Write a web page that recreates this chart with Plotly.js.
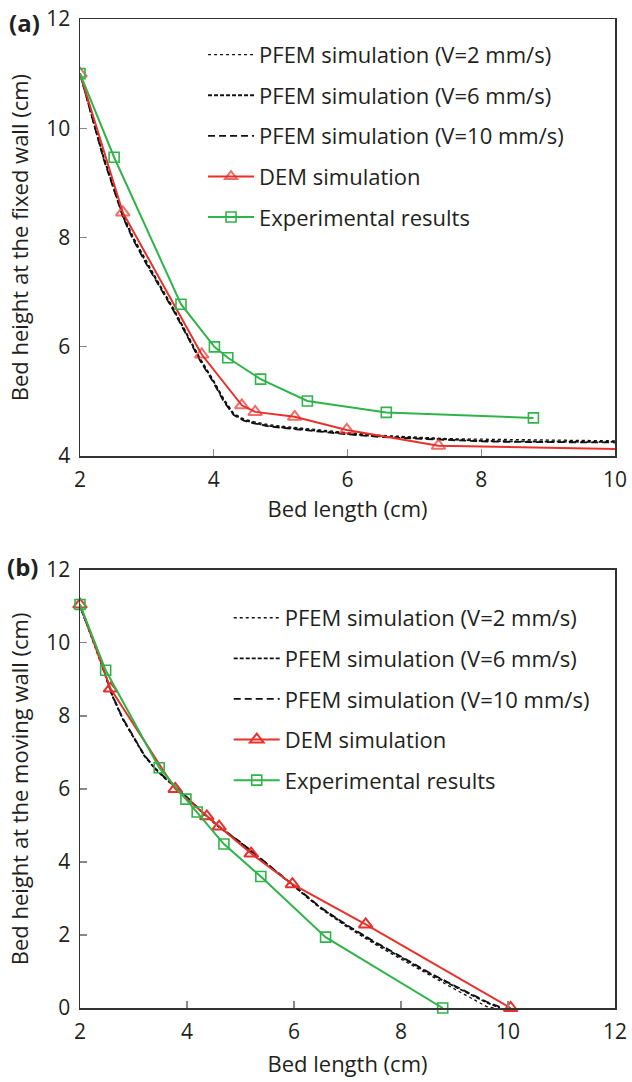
<!DOCTYPE html>
<html>
<head>
<meta charset="utf-8">
<script src="https://cdn.plot.ly/plotly-3.0.1.min.js"></script>
<style>html,body{margin:0;padding:0;background:#fff;}#chart{width:632px;height:1082px;}</style>
</head>
<body>
<div id="chart"></div>
<script>
// ---------- Panel (a): fixed wall ----------
const aPfemX = [2.0, 2.1, 2.2, 2.35, 2.5, 2.65, 2.8, 3.0, 3.2, 3.4, 3.6, 3.8, 4.0, 4.15, 4.3, 4.45, 4.6, 4.8, 5.0, 5.3, 5.6, 6.0, 6.5, 7.0, 7.5, 8.0, 8.5, 9.0, 9.5, 10.0];
const aPfemV2Y  = [11.0, 10.6, 10.15, 9.5, 8.95, 8.4, 8.0, 7.55, 7.12, 6.7, 6.25, 5.78, 5.38, 5.05, 4.78, 4.68, 4.63, 4.58, 4.55, 4.51, 4.47, 4.43, 4.38, 4.35, 4.32, 4.31, 4.30, 4.29, 4.29, 4.28];
const aPfemV6Y  = [11.0, 10.58, 10.12, 9.47, 8.92, 8.37, 7.97, 7.52, 7.1, 6.68, 6.22, 5.76, 5.36, 5.02, 4.76, 4.66, 4.61, 4.56, 4.53, 4.49, 4.45, 4.41, 4.36, 4.33, 4.30, 4.28, 4.27, 4.27, 4.26, 4.26];
const aPfemV10Y = [11.0, 10.57, 10.1, 9.45, 8.9, 8.35, 7.95, 7.5, 7.08, 6.66, 6.2, 5.74, 5.34, 5.0, 4.75, 4.65, 4.60, 4.55, 4.52, 4.48, 4.44, 4.40, 4.35, 4.32, 4.29, 4.27, 4.26, 4.26, 4.25, 4.25];
const aDemX = [2.0, 2.64, 3.82, 4.42, 4.62, 5.21, 5.99, 7.36, 10.0];
const aDemY = [11.0, 8.46, 5.86, 4.93, 4.81, 4.72, 4.48, 4.19, 4.13];
const aExpX = [2.0, 2.51, 3.51, 4.01, 4.21, 4.70, 5.40, 6.58, 8.78];
const aExpY = [11.0, 9.47, 6.78, 6.0, 5.8, 5.41, 5.01, 4.80, 4.70];

// ---------- Panel (b): moving wall ----------
const bPfemX = [2.0, 2.1, 2.2, 2.3, 2.45, 2.6, 2.8, 3.0, 3.2, 3.4, 3.6, 3.8, 4.0, 4.3, 4.6, 5.0, 5.5, 6.0, 6.5, 7.0, 7.5, 8.0, 8.5, 9.0, 9.3, 9.6];
const bPfemV2Y  = [11.0, 10.6, 10.25, 9.85, 9.2, 8.55, 7.9, 7.4, 6.9, 6.55, 6.27, 6.03, 5.75, 5.33, 4.95, 4.52, 3.93, 3.33, 2.72, 2.21, 1.76, 1.34, 0.92, 0.52, 0.28, 0.04];
const bPfemV6Y  = [11.0, 10.62, 10.27, 9.87, 9.22, 8.57, 7.92, 7.42, 6.92, 6.56, 6.28, 6.04, 5.76, 5.34, 4.96, 4.53, 3.94, 3.34, 2.74, 2.24, 1.80, 1.39, 0.97, 0.59, 0.37, 0.15];
const bPfemV10Y = [11.0, 10.63, 10.28, 9.88, 9.23, 8.58, 7.93, 7.43, 6.93, 6.57, 6.29, 6.05, 5.77, 5.35, 4.97, 4.54, 3.95, 3.35, 2.75, 2.26, 1.82, 1.41, 0.99, 0.61, 0.39, 0.17];
const bPfemEndX = [9.75, 9.85, 9.9];
const bDemX = [2.0, 2.57, 3.78, 4.37, 4.60, 5.20, 5.97, 7.34, 10.05];
const bDemY = [11.05, 8.75, 6.0, 5.25, 4.97, 4.23, 3.39, 2.29, 0.0];
const bExpX = [2.0, 2.48, 3.48, 3.98, 4.19, 4.69, 5.38, 6.59, 8.78];
const bExpY = [11.05, 9.25, 6.58, 5.72, 5.37, 4.49, 3.60, 1.94, 0.0];

const legendNames = ["PFEM simulation (V=2 mm/s)", "PFEM simulation (V=6 mm/s)", "PFEM simulation (V=10 mm/s)", "DEM simulation", "Experimental results"];
const xTitle = "Bed length (cm)";
const yTitleA = "Bed height at the fixed wall (cm)";
const yTitleB = "Bed height at the moving wall (cm)";

const RED = "#e8312b", GREEN = "#2fb44a", BLACK = "#111111";
const dashes = ["dot", "4px,2px", "7px,4px"];
const dashWidths = [1.3, 1.8, 1.8];

function withEnd(xs, ys, ex) { return [xs.concat([ex]), ys.concat([0])]; }

const traces = [];
// panel a
[aPfemV2Y, aPfemV6Y, aPfemV10Y].forEach((ys, i) => {
  traces.push({x: aPfemX, y: ys, xaxis: "x", yaxis: "y", mode: "lines", name: legendNames[i],
    legend: "legend", legendgroup: "a" + i,
    line: {color: BLACK, width: dashWidths[i], dash: dashes[i]}});
});
traces.push({x: aDemX, y: aDemY, xaxis: "x", yaxis: "y", mode: "lines+markers", name: legendNames[3],
  legend: "legend", legendgroup: "a3",
  line: {color: RED, width: 2},
  marker: {symbol: "triangle-up-open", size: aDemX.map((v, i) => i === aDemX.length - 1 ? 0 : 12), color: RED, line: {width: 2}}});
traces.push({x: aExpX, y: aExpY, xaxis: "x", yaxis: "y", mode: "lines+markers", name: legendNames[4],
  legend: "legend", legendgroup: "a4",
  line: {color: GREEN, width: 2},
  marker: {symbol: "square-open", size: 10, color: GREEN, line: {width: 1.6}}});
// panel b
[bPfemV2Y, bPfemV6Y, bPfemV10Y].forEach((ys, i) => {
  const d = withEnd(bPfemX, ys, bPfemEndX[i]);
  traces.push({x: d[0], y: d[1], xaxis: "x2", yaxis: "y2", mode: "lines", name: legendNames[i],
    legend: "legend2", legendgroup: "b" + i,
    line: {color: BLACK, width: dashWidths[i], dash: dashes[i]}});
});
traces.push({x: bDemX, y: bDemY, xaxis: "x2", yaxis: "y2", mode: "lines+markers", name: legendNames[3],
  legend: "legend2", legendgroup: "b3", cliponaxis: false,
  line: {color: RED, width: 2},
  marker: {symbol: "triangle-up-open", size: 12, color: RED, line: {width: 2}}});
traces.push({x: bExpX, y: bExpY, xaxis: "x2", yaxis: "y2", mode: "lines+markers", name: legendNames[4],
  legend: "legend2", legendgroup: "b4", cliponaxis: false,
  line: {color: GREEN, width: 2},
  marker: {symbol: "square-open", size: 10, color: GREEN, line: {width: 1.6}}});

const FONT = "'Open Sans', 'Noto Sans', sans-serif";
const TXT = "#231f20";
const axisCommon = {
  showline: true, mirror: true, linecolor: "#333333", linewidth: 1.5,
  ticks: "inside", ticklen: 7, tickcolor: "#888888", tickwidth: 1.2,
  showgrid: false, zeroline: false, ticklabelstandoff: 4,
  tickfont: {family: FONT, size: 21, color: TXT}
};
const legendCommon = {
  bgcolor: "rgba(0,0,0,0)", borderwidth: 0,
  font: {family: FONT, size: 22, color: TXT},
  itemwidth: 46, tracegroupgap: 9, traceorder: "grouped",
  xanchor: "left", yanchor: "top"
};

const layout = {
  width: 632, height: 1082,
  margin: {l: 80, r: 17, t: 19, b: 74},
  paper_bgcolor: "#ffffff", plot_bgcolor: "#ffffff",
  font: {family: FONT, color: TXT},
  showlegend: true,
  xaxis: Object.assign({}, axisCommon, {domain: [0, 1], anchor: "y", range: [2, 10], tickvals: [2, 4, 6, 8, 10],
    title: {text: xTitle, font: {family: FONT, size: 22, color: TXT}, standoff: 4}}),
  yaxis: Object.assign({}, axisCommon, {domain: [0.558, 1], anchor: "x", range: [4, 12], tickvals: [4, 6, 8, 10, 12],
    title: {text: yTitleA, font: {family: FONT, size: 22, color: TXT}, standoff: 11}}),
  xaxis2: Object.assign({}, axisCommon, {domain: [0, 1], anchor: "y2", range: [2, 12], tickvals: [2, 4, 6, 8, 10, 12],
    title: {text: xTitle, font: {family: FONT, size: 22, color: TXT}, standoff: 13}}),
  yaxis2: Object.assign({}, axisCommon, {domain: [0, 0.443], anchor: "x2", range: [0, 12], tickvals: [0, 2, 4, 6, 8, 10, 12],
    title: {text: yTitleB, font: {family: FONT, size: 22, color: TXT}, standoff: 11}}),
  legend: Object.assign({}, legendCommon, {x: 0.23, y: 0.985}),
  legend2: Object.assign({}, legendCommon, {x: 0.278, y: 0.4156}),
  annotations: [
    {text: "<b>(a)</b>", xref: "paper", yref: "paper", x: -0.137, y: 0.996, xanchor: "left", yanchor: "middle", showarrow: false,
      font: {family: FONT, size: 24, color: TXT}},
    {text: "<b>(b)</b>", xref: "paper", yref: "paper", x: -0.141, y: 0.446, xanchor: "left", yanchor: "middle", showarrow: false,
      font: {family: FONT, size: 24, color: TXT}}
  ]
};

Plotly.newPlot("chart", traces, layout, {displayModeBar: false, staticPlot: true});
</script>
</body>
</html>
